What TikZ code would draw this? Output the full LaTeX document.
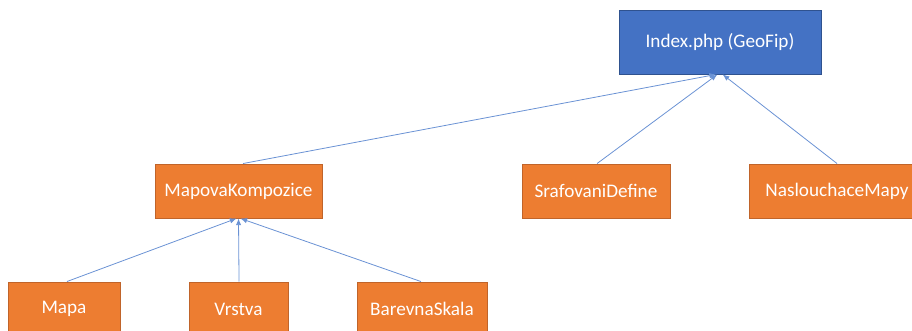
\documentclass[tikz,border=0pt]{standalone}
\usepackage{fontspec}
\setmainfont{Carlito}
\usetikzlibrary{arrows.meta}
\definecolor{obox}{HTML}{ED7D31}
\definecolor{oedge}{HTML}{C0642A}
\definecolor{bbox}{HTML}{4472C4}
\definecolor{bedge}{HTML}{2F528F}
\definecolor{conn}{HTML}{6A92D4}
\tikzset{
  cls/.style={draw=oedge, fill=obox, line width=0.7pt, text=white, font=\fontsize{14.4}{17}\selectfont, minimum height=54*0.75pt, inner sep=0pt},
  root/.style={cls, draw=bedge, fill=bbox},
  inh/.style={conn, line width=0.6pt, -{Latex[length=5pt,width=4pt]}}
}
\begin{document}
\begin{tikzpicture}[x=0.75pt,y=-0.75pt]
\useasboundingbox (0,0) rectangle (912,331);
\clip (0,0) rectangle (912,331);
\node[root, minimum width=202*0.75pt, minimum height=64*0.75pt] (idx) at (720,42) {Index.php (GeoFip)};
\node[cls, minimum width=167*0.75pt] (mk) at (238.5,191) {MapovaKompozice};
\node[cls, minimum width=148*0.75pt] (sd) at (596,191) {SrafovaniDefine};
\node[cls, minimum width=176*0.75pt] (nm) at (837,191) {NaslouchaceMapy};
\node[cls, minimum width=112*0.75pt] (ma) at (64,309) {Mapa};
\node[cls, minimum width=99*0.75pt] (vr) at (238.5,309) {Vrstva};
\node[cls, minimum width=130*0.75pt] (bs) at (422,309) {BarevnaSkala};
\draw[inh] ([xshift=3.4pt]mk.north) -- ([xshift=-3pt]idx.south);
\draw[inh] ([xshift=0.8pt]sd.north) -- ([xshift=-2pt]idx.south);
\draw[inh] (nm.north) -- ([xshift=2pt]idx.south);
\draw[inh] ([xshift=2.2pt]ma.north) -- ([xshift=-1.5pt]mk.south);
\draw[inh] ([xshift=0.4pt]vr.north) -- ([xshift=0pt]mk.south);
\draw[inh] ([xshift=-0.8pt]bs.north) -- ([xshift=1.5pt]mk.south);
\end{tikzpicture}
\end{document}
